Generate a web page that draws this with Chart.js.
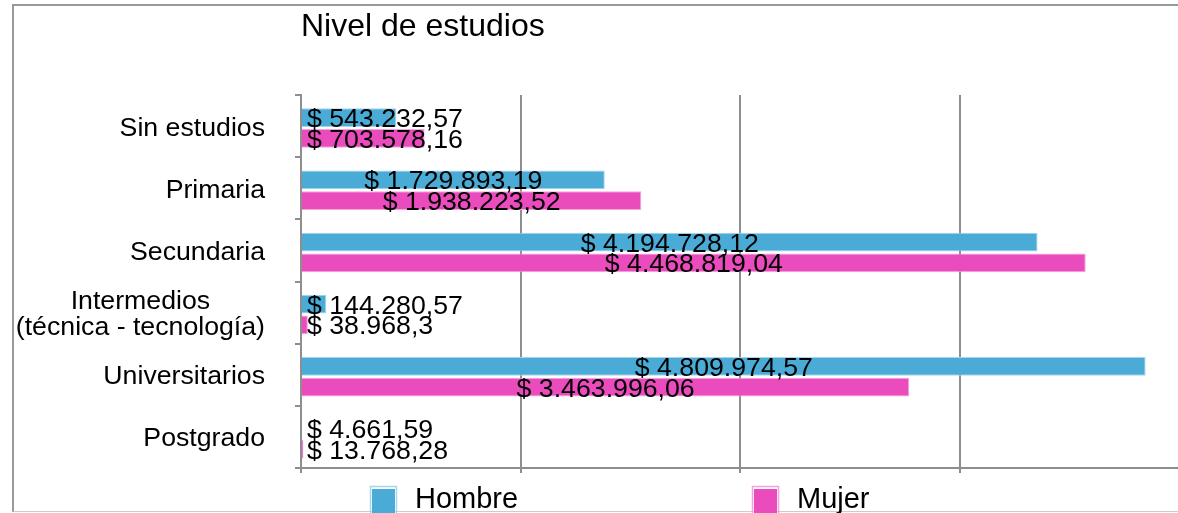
<!DOCTYPE html>
<html>
<head>
<meta charset="utf-8">
<script src="https://cdn.jsdelivr.net/npm/chart.js@4.4.1/dist/chart.umd.min.js"></script>
<style>
  html, body { margin: 0; padding: 0; background: #fff; overflow: hidden; }
  .frame {
    position: absolute; left: 12px; top: 4px; width: 1300px; height: 505px;
    border-top: 2px solid #999; border-left: 2px solid #999; border-bottom: 1px solid #ccc;
  }
  #chart { position: absolute; left: 0; top: 0; }
</style>
</head>
<body>
<div class="frame"></div>
<canvas id="chart" width="1182" height="513"></canvas>
<script>
const categories = ["Sin estudios", "Primaria", "Secundaria", ["Intermedios", "(técnica - tecnología)"], "Universitarios", "Postgrado"];
const hombre = [543232.57, 1729893.19, 4194728.12, 144280.57, 4809974.57, 4661.59];
const mujer = [703578.16, 1938223.52, 4468819.04, 38968.3, 3463996.06, 13768.28];
const seriesNames = ["Hombre", "Mujer"];

const FONT = '"Liberation Sans", Arial, sans-serif';
const BAR_SHIFT = 2; // las barras del original quedan un poco más abajo

// formato $ 1.234.567,89
function money(v) {
  const parts = String(v).split(".");
  const ent = parts[0].replace(/\B(?=(\d{3})+(?!\d))/g, ".");
  return "$ " + ent + (parts[1] ? "," + parts[1] : "");
}

const shiftBars = {
  id: "shiftBars",
  beforeDatasetsDraw(chart) {
    chart.ctx.save();
    chart.ctx.translate(0, BAR_SHIFT);
  },
  afterDatasetsDraw(chart) {
    chart.ctx.restore();
  }
};

const valueLabels = {
  id: "valueLabels",
  afterDraw(chart) {
    const ctx = chart.ctx;
    const left = chart.chartArea.left;
    ctx.save();
    ctx.font = "26.7px " + FONT;
    ctx.fillStyle = "#000";
    ctx.textAlign = "left";
    ctx.textBaseline = "alphabetic";
    chart.data.datasets.forEach((ds, i) => {
      chart.getDatasetMeta(i).data.forEach((bar, j) => {
        const text = money(ds.data[j]);
        const w = ctx.measureText(text).width;
        let x = (bar.x + bar.base) / 2 - w / 2;
        if (x < left + 6) x = left + 6;
        ctx.fillText(text, x, bar.y + BAR_SHIFT + 9.5);
      });
    });
    ctx.restore();
  }
};

const categoryLabels = {
  id: "categoryLabels",
  afterDraw(chart) {
    const ctx = chart.ctx;
    const yScale = chart.scales.y;
    const right = chart.chartArea.left - 36;
    ctx.save();
    ctx.font = "26.7px " + FONT;
    ctx.fillStyle = "#000";
    ctx.textAlign = "center";
    ctx.textBaseline = "alphabetic";
    categories.forEach((label, i) => {
      const lines = Array.isArray(label) ? label : [label];
      const widest = Math.max(...lines.map(l => ctx.measureText(l).width));
      const cx = right - widest / 2;
      const cy = yScale.getPixelForTick(i);
      const lh = 26;
      lines.forEach((l, k) => {
        const y = cy + (k - (lines.length - 1) / 2) * lh + 9.5;
        ctx.fillText(l, cx, y);
      });
    });
    ctx.restore();
  }
};

const bottomLegend = {
  id: "bottomLegend",
  afterDraw(chart) {
    const ctx = chart.ctx;
    const xs = [370, 752];
    ctx.save();
    ctx.font = "29px " + FONT;
    ctx.textAlign = "left";
    ctx.textBaseline = "alphabetic";
    chart.data.datasets.forEach((ds, i) => {
      const x = xs[i];
      ctx.fillStyle = ds.backgroundColor;
      ctx.fillRect(x + 2, 489, 23, 26);
      ctx.strokeStyle = ds.borderColor;
      ctx.lineWidth = 1.5;
      ctx.strokeRect(x + 0.5, 486.5, 26, 30);
      ctx.fillStyle = "#000";
      ctx.fillText(ds.label, x + 45, 508);
    });
    ctx.restore();
  }
};

new Chart(document.getElementById("chart"), {
  type: "bar",
  data: {
    labels: categories,
    datasets: [
      {
        label: seriesNames[0],
        data: hombre,
        backgroundColor: "#4aabd6",
        borderColor: "#a6d6ec",
        borderWidth: 1,
        categoryPercentage: 0.67,
        barPercentage: 0.9
      },
      {
        label: seriesNames[1],
        data: mujer,
        backgroundColor: "#ea4bbd",
        borderColor: "#f4a3dd",
        borderWidth: 1,
        categoryPercentage: 0.67,
        barPercentage: 0.9
      }
    ]
  },
  options: {
    indexAxis: "y",
    responsive: false,
    animation: false,
    devicePixelRatio: 1,
    layout: { padding: { left: 0, right: 3, top: 0, bottom: 40 } },
    plugins: {
      legend: { display: false },
      tooltip: { enabled: false },
      title: {
        display: true,
        text: "Nivel de estudios",
        align: "start",
        fullSize: false,
        color: "#000",
        font: { family: FONT, size: 32, weight: "normal" },
        padding: { top: 8, bottom: 48.6 }
      }
    },
    scales: {
      x: {
        min: 0,
        max: 5000000,
        ticks: { display: false, stepSize: 1250000 },
        grid: { color: "#8e8e8e", lineWidth: 2, tickLength: 5 },
        border: { color: "#8e8e8e", width: 2 }
      },
      y: {
        z: 1,
        ticks: { display: false },
        grid: { drawOnChartArea: false, color: "#8e8e8e", lineWidth: 2, tickLength: 6 },
        border: { color: "#8e8e8e", width: 2 },
        afterFit(scale) { scale.width = 301; }
      }
    }
  },
  plugins: [shiftBars, valueLabels, categoryLabels, bottomLegend]
});
</script>
</body>
</html>
